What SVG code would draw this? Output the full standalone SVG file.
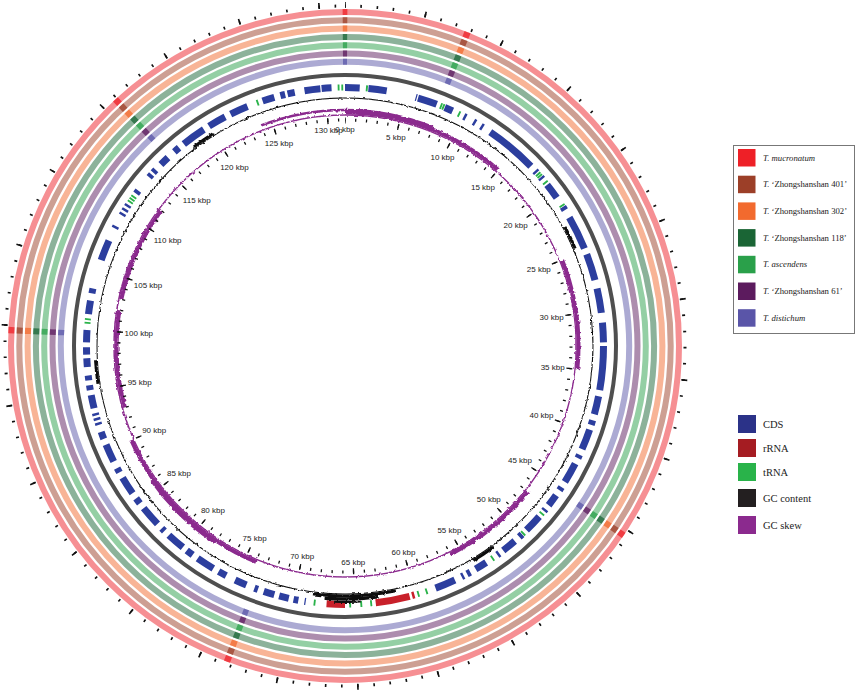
<svg xmlns="http://www.w3.org/2000/svg" width="858" height="693" viewBox="0 0 858 693">
<defs>
<filter id="rag" x="-5%" y="-5%" width="110%" height="110%">
<feTurbulence type="fractalNoise" baseFrequency="0.3" numOctaves="2" seed="4" result="n"/>
<feDisplacementMap in="SourceGraphic" in2="n" scale="3" xChannelSelector="R" yChannelSelector="G"/>
</filter>
</defs>
<style>
.c{fill:none}
.ring{fill:none;stroke-width:6;stroke-opacity:.5}
.mark{fill:none;stroke-width:6;stroke-opacity:.75;stroke-dasharray:1.5 74.5 4 372 4 275 4 260 4 158 4 153.5}
.lbl{font-family:"Liberation Sans",Arial,sans-serif;font-size:8px;fill:#222;text-anchor:middle}
.leg{font-family:"Liberation Serif","Times New Roman",serif;font-size:8.7px;fill:#222}
.leg2{font-family:"Liberation Serif","Times New Roman",serif;font-size:10.5px;fill:#222}
.it{font-style:italic}
</style>
<rect width="858" height="693" fill="#fff"/>

<g id="outer-ticks" transform="rotate(-90 345 346)">
<circle class="c" cx="345" cy="346" r="340" stroke="#111" stroke-width="3" pathLength="13160" stroke-dasharray="10 90" stroke-dashoffset="5"/>
<circle class="c" cx="345" cy="346" r="341" stroke="#111" stroke-width="6" pathLength="13160" stroke-dasharray="10 490" stroke-dashoffset="5"/>
</g>

<g id="comparison-rings" transform="rotate(-90 345 346)">
<circle class="ring" cx="345" cy="346" r="334" stroke="#ee2027"/>
<circle class="ring" cx="345" cy="346" r="325.7" stroke="#9c3f28"/>
<circle class="ring" cx="345" cy="346" r="317.4" stroke="#f26a2e"/>
<circle class="ring" cx="345" cy="346" r="309.1" stroke="#1a6535"/>
<circle class="ring" cx="345" cy="346" r="300.8" stroke="#2aa04a"/>
<circle class="ring" cx="345" cy="346" r="292.5" stroke="#5c1b5e"/>
<circle class="ring" cx="345" cy="346" r="284.2" stroke="#5a55a8"/>
<circle class="mark" cx="345" cy="346" r="334" stroke="#ee2027" pathLength="1316"/>
<circle class="mark" cx="345" cy="346" r="325.7" stroke="#9c3f28" pathLength="1316"/>
<circle class="mark" cx="345" cy="346" r="317.4" stroke="#f26a2e" pathLength="1316"/>
<circle class="mark" cx="345" cy="346" r="309.1" stroke="#1a6535" pathLength="1316"/>
<circle class="mark" cx="345" cy="346" r="300.8" stroke="#2aa04a" pathLength="1316"/>
<circle class="mark" cx="345" cy="346" r="292.5" stroke="#5c1b5e" pathLength="1316"/>
<circle class="mark" cx="345" cy="346" r="284.2" stroke="#5a55a8" pathLength="1316"/>
</g>

<g id="backbone">
<circle class="c" cx="345" cy="346" r="271" stroke="#4f4f4f" stroke-width="4"/>
</g>

<g id="features" transform="rotate(-90 345 346)">
<circle class="c" cx="345" cy="346" r="258.5" stroke="#2c3e9e" stroke-width="7" pathLength="1316" stroke-dasharray="12 7 15 24 1 1 16 7 7 10 2 7 2 5 2 7 43 5 2 5 2 6 13 9 3 7 28 5 22 7 20 8 16 3 36 5 15 5 4 4 17 5 3 5 17 5 3 5 10 4 2 6 15 5 3 5 12 4 2 11 10 5 3 3 2 6 17 107 1 5 4 4 8 4 9 5 3 7 10 8 7 5 15 5 6 4 15 5 3 5 17 5 5 5 15 5 4 6 15 5 6 6 2 2 2 2 2 4 11 4 4 4 4 7 7 3 6 4 10 13 11 6 4 24 17 11 2 10 2 2 2 2 2 11 3 14 3 2 3 6 8 7 5 5 20 5 15 5 15 13 10 5 4 2 6 8 13 1 8 11"/>
<circle class="c" cx="345" cy="346" r="258.5" stroke="#c8202a" stroke-width="7" pathLength="1316" stroke-dasharray="0 601 2 2 28 25 15 643"/>
<circle class="c" cx="345" cy="346" r="258.5" stroke="#2ab34a" stroke-width="6" pathLength="1316" stroke-dasharray="0 17 1.5 60.5 1.5 0.5 1.5 12.5 1.5 79.5 1.5 0.5 1.5 5.5 1.5 21.5 1.5 266.5 1.5 20.5 1.5 30.5 1.5 58.5 1.5 5.5 1.5 37.5 1.5 6.5 1.5 7.5 1.5 27.5 1.5 321.5 1.5 1.5 1.5 100.5 1.5 1 1.5 1 1.5 126.5 1.5 65.5 1.5 1.5 1.5 1.5"/>
</g>

<g id="gc-content" transform="rotate(-90 345 346)" filter="url(#rag)">
<circle class="c" cx="345" cy="346" r="248" stroke="#111" stroke-width="1.1"/>
<circle class="c" cx="345" cy="346" r="250" stroke="#111" stroke-width="3" pathLength="1316" stroke-dasharray="0 225 20 280 20 70 70 270 20 205 20 116"/>
<circle class="c" cx="345" cy="346" r="253" stroke="#111" stroke-width="3.5" pathLength="1316" stroke-dasharray="0 630 45 641"/>
<circle class="c" cx="345" cy="346" r="256" stroke="#111" stroke-width="2" pathLength="1316" stroke-dasharray="0 645 22 649"/>
</g>

<g id="gc-skew" transform="rotate(-90 345 346)" filter="url(#rag)">
<circle class="c" cx="345" cy="346" r="231" stroke="#8b2a8e" stroke-width="1.4"/>
<circle class="c" cx="345" cy="346" r="233.5" stroke="#8b2a8e" stroke-width="4" pathLength="1316" stroke-dasharray="150 100 100 120 90 180 160 416"/>
<circle class="c" cx="345" cy="346" r="236" stroke="#8b2a8e" stroke-width="2.5" pathLength="1316" stroke-dasharray="80 700 80 380 76"/>
<circle class="c" cx="345" cy="346" r="228.5" stroke="#8b2a8e" stroke-width="4" pathLength="1316" stroke-dasharray="0 930 90 10 90 196"/>
</g>

<g id="inner-ticks" transform="rotate(-90 345 346)">
<circle class="c" cx="345" cy="346" r="226" stroke="#111" stroke-width="3" pathLength="13160" stroke-dasharray="12 88" stroke-dashoffset="6"/>
<circle class="c" cx="345" cy="346" r="225.5" stroke="#111" stroke-width="6" pathLength="13160" stroke-dasharray="12 488" stroke-dashoffset="6"/>
</g>

<g id="scale-labels" class="lbl">
<text x="345" y="131.5">0 kbp</text>
<text x="395.9" y="139.9">5 kbp</text>
<text x="442.5" y="160.3">10 kbp</text>
<text x="483" y="190.2">15 kbp</text>
<text x="515.6" y="228.1">20 kbp</text>
<text x="538.8" y="272">25 kbp</text>
<text x="551.6" y="320">30 kbp</text>
<text x="552.7" y="369.7">35 kbp</text>
<text x="541.5" y="418.1">40 kbp</text>
<text x="520" y="462.9">45 kbp</text>
<text x="488.8" y="501.9">50 kbp</text>
<text x="449.4" y="533.1">55 kbp</text>
<text x="403.5" y="554.7">60 kbp</text>
<text x="353.3" y="565.4">65 kbp</text>
<text x="302.2" y="559.4">70 kbp</text>
<text x="254.6" y="541.1">75 kbp</text>
<text x="212.9" y="512.8">80 kbp</text>
<text x="179" y="476.1">85 kbp</text>
<text x="154.2" y="432.9">90 kbp</text>
<text x="139.7" y="385.4">95 kbp</text>
<text x="138.8" y="336">100 kbp</text>
<text x="148" y="287.7">105 kbp</text>
<text x="167.6" y="242.6">110 kbp</text>
<text x="196.8" y="202.6">115 kbp</text>
<text x="234.4" y="169.9">120 kbp</text>
<text x="279" y="146.3">125 kbp</text>
<text x="328.5" y="133.2">130 kbp</text>
</g>

<g id="legend-species">
<rect x="733.5" y="145.5" width="121" height="188" fill="#fff" stroke="#777" stroke-width="1"/>
<rect x="738" y="149" width="17.5" height="17.5" fill="#ee2027"/>
<rect x="738" y="175.7" width="17.5" height="17.5" fill="#9c3f28"/>
<rect x="738" y="202.4" width="17.5" height="17.5" fill="#f26a2e"/>
<rect x="738" y="229.1" width="17.5" height="17.5" fill="#1a6535"/>
<rect x="738" y="255.8" width="17.5" height="17.5" fill="#2aa04a"/>
<rect x="738" y="282.5" width="17.5" height="17.5" fill="#5c1b5e"/>
<rect x="738" y="309.2" width="17.5" height="17.5" fill="#5a55a8"/>
<text class="leg it" x="763" y="160.5">T. mucronatum</text>
<text class="leg" x="763" y="187.2"><tspan class="it">T.</tspan> ‘Zhongshanshan 401’</text>
<text class="leg" x="763" y="213.9"><tspan class="it">T.</tspan> ‘Zhongshanshan 302’</text>
<text class="leg" x="763" y="240.6"><tspan class="it">T.</tspan> ‘Zhongshanshan 118’</text>
<text class="leg it" x="763" y="267.3">T. ascendens</text>
<text class="leg" x="763" y="294"><tspan class="it">T.</tspan> ‘Zhongshanshan 61’</text>
<text class="leg it" x="763" y="320.7">T. distichum</text>
</g>

<g id="legend-features">
<rect x="738" y="415" width="18" height="18" fill="#2b3288"/>
<rect x="738" y="439" width="18" height="18" fill="#a51c22"/>
<rect x="738" y="463" width="18" height="18" fill="#29b34a"/>
<rect x="738" y="489" width="18" height="18" fill="#231f20"/>
<rect x="738" y="516" width="18" height="18" fill="#8b2a8e"/>
<text class="leg2" x="763" y="428">CDS</text>
<text class="leg2" x="763" y="452">rRNA</text>
<text class="leg2" x="763" y="476">tRNA</text>
<text class="leg2" x="763" y="502">GC content</text>
<text class="leg2" x="763" y="529">GC skew</text>
</g>
</svg>
